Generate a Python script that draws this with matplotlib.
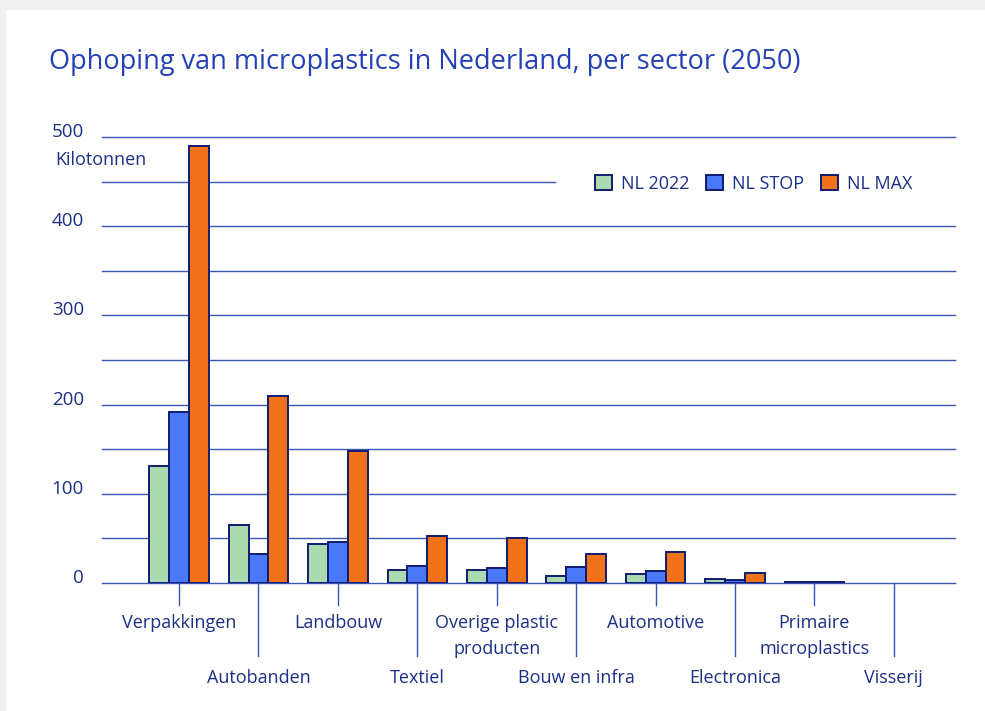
import matplotlib.pyplot as plt
import numpy as np
from matplotlib.patches import Rectangle
from matplotlib import transforms

sectors = ["Verpakkingen", "Autobanden", "Landbouw", "Textiel", "Overige plastic\nproducten",
           "Bouw en infra", "Automotive", "Electronica", "Primaire\nmicroplastics", "Visserij"]
nl_2022 = [131, 65, 44, 14.5, 14.5, 8, 10, 4.5, 1.2, 0]
nl_stop = [192, 32.5, 46, 19, 17, 18, 13, 3.4, 1.5, 0]
nl_max = [490, 210, 148, 53, 51, 32.5, 35, 11, 1.2, 0]
series_names = ["NL 2022", "NL STOP", "NL MAX"]
y_ticks = [0, 100, 200, 300, 400, 500]
grid_levels = [0, 50, 100, 150, 200, 250, 300, 350, 400, 450, 500]

TITLE_COL = "#2341b5"
TEXT_COL = "#1c2f86"
GRID_COL = "#3a55b8"
EDGE_COL = "#0f1c70"
FILLS = ["#abdab0", "#4a79f7", "#f27219"]

plt.rcParams["font.family"] = ["Open Sans", "DejaVu Sans"]

fig = plt.figure(figsize=(9.85, 7.11), dpi=100, facecolor="#f0f0f0")
# white card on the grey page
fig.patches.append(Rectangle((6 / 985, 0), 1, 1 - 10 / 711, transform=fig.transFigure,
                             facecolor="white", edgecolor="none", zorder=-1))

ax = fig.add_axes([102 / 985, 128 / 711, 853 / 985, 446 / 711])
ax.set_facecolor("none")

x = np.arange(len(sectors))
w = 0.25
for i, (vals, col, name) in enumerate(zip([nl_2022, nl_stop, nl_max], FILLS, series_names)):
    edges = [EDGE_COL if v > 0 else "none" for v in vals]
    ax.bar(x + (i - 1) * w, vals, width=w, color=col, edgecolor=edges, linewidth=1.4,
           label=name, zorder=3)

ax.set_xlim(-0.97, 9.77)
ax.set_ylim(0, 500)

# horizontal rules; the 450 rule stops short of the legend
for g in grid_levels:
    xmax = 0.531 if g == 450 else 1.0
    ax.axhline(g, xmin=0, xmax=xmax, color=GRID_COL, linewidth=1.0, zorder=1, clip_on=False)

for s in ax.spines.values():
    s.set_visible(False)
ax.set_xticks([])
ax.set_yticks(y_ticks)
ax.tick_params(axis="y", length=0, pad=13, labelsize=13.5, labelcolor=TEXT_COL)
for lbl in ax.get_yticklabels():
    lbl.set_verticalalignment("baseline")
ax.text(-47 / 853, 423 / 446, "Kilotonnen", transform=ax.transAxes, fontsize=13,
        color=TEXT_COL, ha="left", va="center")

# staggered category labels with leader ticks
trans = transforms.blended_transform_factory(ax.transData, ax.transAxes)
for i, name in enumerate(sectors):
    low = i % 2 == 1
    tick_end = -73 / 446 if low else -22 / 446
    ax.plot([i, i], [0, tick_end], transform=trans, color=GRID_COL, linewidth=1.0, clip_on=False)
    ty = -86 / 446 if low else -31 / 446
    ax.text(i, ty, name, transform=trans, ha="center", va="top", fontsize=13,
            color=TEXT_COL, linespacing=1.55)

leg = ax.legend(loc="center left", bbox_to_anchor=(0.559, 0.895), ncol=3, frameon=False,
                fontsize=13, handlelength=0.92, handleheight=0.92, handletextpad=0.5,
                columnspacing=0.95, labelcolor=TEXT_COL)

fig.text(49 / 985, 1 - 62 / 711, "Ophoping van microplastics in Nederland, per sector (2050)",
         fontsize=19.5, color=TITLE_COL, ha="left", va="center")

fig.savefig("out.png", dpi=100, facecolor=fig.get_facecolor())
